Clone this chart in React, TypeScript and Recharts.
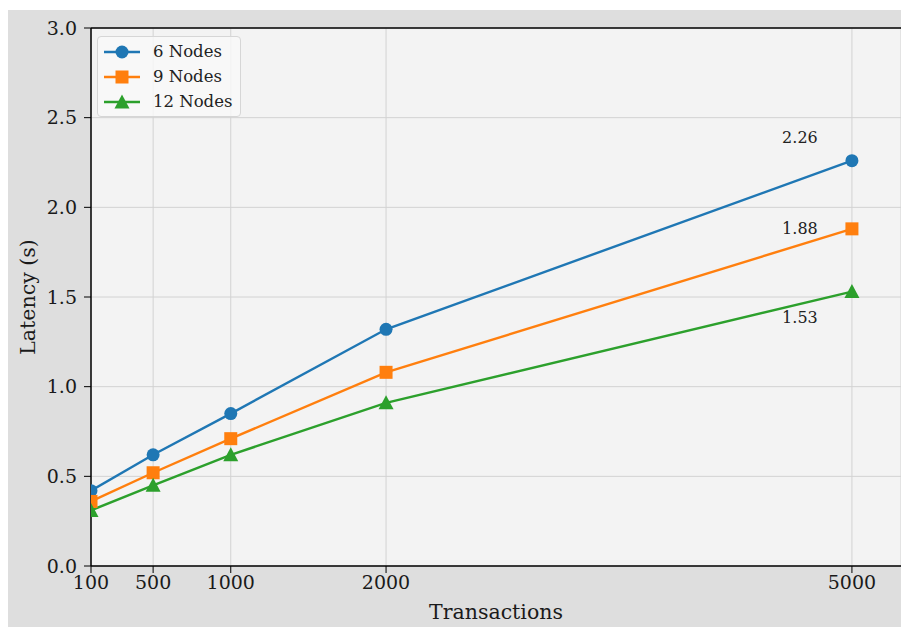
import {
  LineChart,
  Line,
  XAxis,
  YAxis,
  CartesianGrid,
  LabelList,
  ReferenceLine,
} from 'recharts';

const transactions = [100, 500, 1000, 2000, 5000];
const nodes6 = [0.42, 0.62, 0.85, 1.32, 2.26];
const nodes9 = [0.36, 0.52, 0.71, 1.08, 1.88];
const nodes12 = [0.31, 0.45, 0.62, 0.91, 1.53];
const yTicks = [0, 0.5, 1, 1.5, 2, 2.5, 3];

const data = transactions.map((t, i) => ({
  tx: t,
  n6: nodes6[i],
  n9: nodes9[i],
  n12: nodes12[i],
}));

const FONT = '"DejaVu Serif", serif';
const BLUE = '#1f77b4';
const ORANGE = '#ff7f0e';
const GREEN = '#2ca02c';

type Shape = 'circle' | 'square' | 'triangle';

const Marker = ({ cx, cy, color, shape }: { cx?: number; cy?: number; color: string; shape: Shape }) => {
  if (cx == null || cy == null) return null;
  if (shape === 'circle') return <circle cx={cx} cy={cy} r={6.5} fill={color} />;
  if (shape === 'square') return <rect x={cx - 6.5} y={cy - 6.5} width={13} height={13} fill={color} />;
  return <polygon points={`${cx},${cy - 7.5} ${cx - 7.5},${cy + 6.5} ${cx + 7.5},${cy + 6.5}`} fill={color} />;
};

const series = [
  { key: 'n6', name: '6 Nodes', color: BLUE, shape: 'circle' as Shape, dy: -24 },
  { key: 'n9', name: '9 Nodes', color: ORANGE, shape: 'square' as Shape, dy: -1 },
  { key: 'n12', name: '12 Nodes', color: GREEN, shape: 'triangle' as Shape, dy: 25 },
];

const EndLabel = (dy: number) => (props: any) => {
  const { x, y, value, index } = props;
  if (index !== transactions.length - 1) return null;
  return (
    <text x={x - 52} y={y + dy + 6} textAnchor="middle" fill="#222" fontSize={16} fontFamily={FONT}>
      {Number(value).toFixed(2)}
    </text>
  );
};

// legend drawn as plain html over the plot, recharts kept reserving space for it
const LegendBox = () => (
  <div
    style={{
      position: 'absolute',
      left: 89,
      top: 26,
      background: 'rgba(248,248,248,0.85)',
      border: '1px solid #d6d6d6',
      borderRadius: 4,
      padding: '2px 8px 2px 5px',
      fontFamily: FONT,
      fontSize: 16.5,
      color: '#222',
      whiteSpace: 'nowrap',
    }}
  >
    {series.map(s => (
      <div key={s.key} style={{ display: 'flex', alignItems: 'center', height: 25 }}>
        <svg width={38} height={16} style={{ marginRight: 12 }}>
          <line x1={1} y1={8} x2={37} y2={8} stroke={s.color} strokeWidth={2.4} />
          <Marker cx={19} cy={8} color={s.color} shape={s.shape} />
        </svg>
        <span>{s.name}</span>
      </div>
    ))}
  </div>
);

export default function App() {
  return (
    <div style={{ position: 'absolute', left: 8, top: 10, width: 893, height: 617, background: '#dedede' }}>
      <LineChart
        width={893}
        height={617}
        data={data}
        margin={{ top: 18, right: 0, left: 0, bottom: 0 }}
      >
        <CartesianGrid stroke="#d2d2d2" strokeWidth={1} fill="#f3f3f3" />
        <XAxis
          dataKey="tx"
          type="number"
          domain={[100, 5316]}
          ticks={transactions}
          allowDataOverflow
          height={61}
          tick={{ fill: '#1a1a1a', fontSize: 19, fontFamily: FONT }}
          tickSize={7}
          tickMargin={3}
          axisLine={{ stroke: '#000', strokeWidth: 1.5 }}
          tickLine={{ stroke: '#000' }}
          label={{
            value: 'Transactions',
            position: 'insideBottom',
            offset: 8,
            fill: '#1a1a1a',
            fontSize: 20.5,
            fontFamily: FONT,
          }}
        />
        <YAxis
          type="number"
          domain={[0, 3]}
          ticks={yTicks}
          width={83}
          tickFormatter={v => Number(v).toFixed(1)}
          tick={{ fill: '#1a1a1a', fontSize: 19, fontFamily: FONT }}
          tickSize={7}
          tickMargin={7}
          axisLine={{ stroke: '#000', strokeWidth: 1.5 }}
          tickLine={{ stroke: '#000' }}
          label={{
            value: 'Latency (s)',
            angle: -90,
            position: 'insideLeft',
            offset: 20,
            fill: '#1a1a1a',
            fontSize: 20.5,
            fontFamily: FONT,
            style: { textAnchor: 'middle' },
          }}
        />
        <ReferenceLine y={3} stroke="#000" strokeWidth={1.5} />
        {series.map(s => (
          <Line
            key={s.key}
            dataKey={s.key}
            name={s.name}
            stroke={s.color}
            strokeWidth={2.4}
            isAnimationActive={false}
            dot={(p: any) => <Marker key={`${s.key}-${p.index}`} cx={p.cx} cy={p.cy} color={s.color} shape={s.shape} />}
            activeDot={false}
          >
            <LabelList dataKey={s.key} content={EndLabel(s.dy)} />
          </Line>
        ))}
      </LineChart>
      <LegendBox />
    </div>
  );
}
